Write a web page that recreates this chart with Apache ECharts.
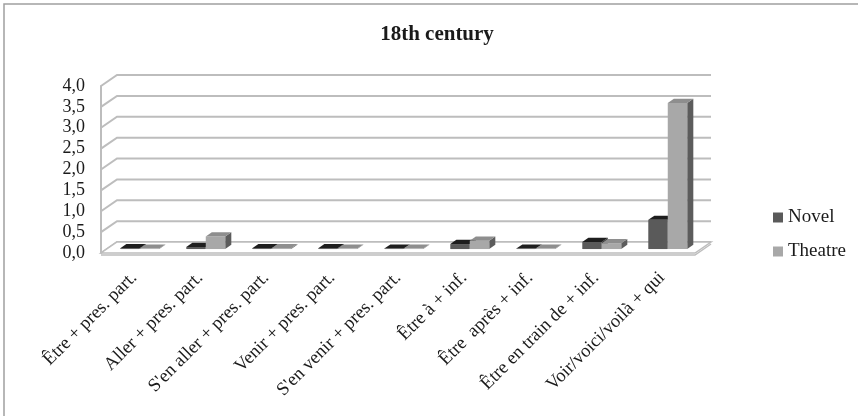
<!DOCTYPE html>
<html>
<head>
<meta charset="utf-8">
<script src="https://cdn.jsdelivr.net/npm/echarts@6/dist/echarts.min.js"></script>
<style>
  html, body { margin: 0; padding: 0; background: #fff; }
  #chart { width: 858px; height: 416px; }
</style>
</head>
<body>
<div id="chart"></div>
<script>
// Periphrastic constructions, 18th century corpus
const categories = [
  'Être + pres. part.',
  'Aller + pres. part.',
  "S'en aller + pres. part.",
  'Venir + pres. part.',
  "S'en venir + pres. part.",
  'Être à + inf.',
  'Être  après + inf.',
  'Être en train de + inf.',
  'Voir/voici/voilà + qui'
];
const novel   = [0.02, 0.05, 0.02, 0.02, 0.01, 0.12, 0.01, 0.17, 0.70];
const theatre = [0.01, 0.30, 0.02, 0.01, 0.01, 0.20, 0.01, 0.14, 3.50];
const yTicks  = [0, 0.5, 1, 1.5, 2, 2.5, 3, 3.5, 4];

// pseudo-3D depth vector (front plane -> back wall)
const DX = 16, DY = -11;
const BAR_FRONT = 0.36;   // depth fraction where bar front faces sit
const BAR_DEPTH = 0.38;   // depth fraction occupied by each bar
const BAR_W = 0.295;      // bar width as a fraction of the category band

const FONT = "'Liberation Serif', 'Times New Roman', serif";
const GRID_COLOR = '#bdbdbd';

const chart = echarts.init(document.getElementById('chart'), null, { renderer: 'canvas' });

function wallLines(params, api) {
  const v = api.value(1);
  const p = api.coord([0, v]);
  const band = api.size([1, 0])[0];
  const xl = p[0] - band / 2;
  const xr = xl + band * categories.length;
  return {
    type: 'polyline',
    shape: { points: [[xl, p[1]], [xl + DX, p[1] + DY], [xr + DX, p[1] + DY]] },
    style: { stroke: GRID_COLOR, lineWidth: 2, fill: null }
  };
}

function floorShape(params, api) {
  const p = api.coord([0, 0]);
  const band = api.size([1, 0])[0];
  const xl = p[0] - band / 2;
  const xr = xl + band * categories.length;
  const y = p[1];
  return {
    type: 'group',
    children: [
      {
        type: 'polygon',
        shape: { points: [[xl, y], [xr, y], [xr + DX, y + DY], [xl + DX, y + DY]] },
        style: { fill: '#ffffff', stroke: GRID_COLOR, lineWidth: 1.5 }
      },
      {
        type: 'polyline',
        shape: { points: [[xl, y + 2], [xr, y + 2], [xr + DX, y + DY + 2]] },
        style: { stroke: GRID_COLOR, lineWidth: 1.5, fill: null }
      }
    ]
  };
}

function barRenderer(sideIndex, colors) {
  return function (params, api) {
    const i = api.value(0);
    const v = api.value(1);
    const base = api.coord([i, 0]);
    const top = api.coord([i, v]);
    const band = api.size([1, 0])[0];
    const w = band * BAR_W;
    const fx = BAR_FRONT * DX, fy = BAR_FRONT * DY;
    const bx = BAR_DEPTH * DX, by = BAR_DEPTH * DY;
    const x0 = base[0] + (sideIndex === 0 ? -w : 0) + fx;
    const x1 = x0 + w;
    const yb = base[1] + fy;
    const yt = top[1] + fy;
    return {
      type: 'group',
      children: [
        {
          type: 'polygon',
          shape: { points: [[x1, yt], [x1 + bx, yt + by], [x1 + bx, yb + by], [x1, yb]] },
          style: { fill: colors.side }
        },
        {
          type: 'rect',
          shape: { x: x0, y: yt, width: w, height: Math.max(yb - yt, 0) },
          style: { fill: colors.front }
        },
        {
          type: 'polygon',
          shape: { points: [[x0, yt], [x1, yt], [x1 + bx, yt + by], [x0 + bx, yt + by]] },
          style: { fill: colors.top }
        }
      ]
    };
  };
}

const novelColors   = { front: '#5a5a5a', top: '#1e1e1e', side: '#3c3c3c' };
const theatreColors = { front: '#a8a8a8', top: '#8e8e8e', side: '#5c5c5c' };

chart.setOption({
  animation: false,
  backgroundColor: '#ffffff',
  title: {
    text: '18th century',
    left: 432,
    top: 19,
    textAlign: 'center',
    textStyle: { fontFamily: FONT, fontSize: 21, fontWeight: 'bold', color: '#1a1a1a' }
  },
  legend: {
    orient: 'vertical',
    left: 768,
    top: 203,
    itemWidth: 10,
    itemHeight: 10,
    itemGap: 15,
    icon: 'rect',
    data: ['Novel', 'Theatre'],
    textStyle: { fontFamily: FONT, fontSize: 19, color: '#1a1a1a' }
  },
  graphic: [{
    type: 'rect',
    shape: { x: 4, y: 4, width: 900, height: 450 },
    style: { fill: null, stroke: '#a0a0a0', lineWidth: 1.5 },
    silent: true
  }],
  grid: { left: 101, top: 86, width: 594, height: 167 },
  xAxis: {
    type: 'category',
    data: categories,
    axisLine: { show: false },
    axisTick: { show: false },
    axisLabel: {
      interval: 0,
      rotate: 45,
      margin: 22,
      fontFamily: FONT,
      fontSize: 18.5,
      color: '#1a1a1a'
    }
  },
  yAxis: {
    type: 'value',
    min: 0,
    max: 4,
    interval: 0.5,
    axisLine: { show: true, lineStyle: { color: GRID_COLOR, width: 2 } },
    axisTick: { show: false },
    splitLine: { show: false },
    axisLabel: {
      margin: 16,
      fontFamily: FONT,
      fontSize: 18,
      color: '#1a1a1a',
      formatter: v => v.toFixed(1).replace('.', ',')
    }
  },
  series: [
    {
      type: 'custom',
      silent: true,
      z: 1,
      renderItem: wallLines,
      data: yTicks.map(v => [0, v])
    },
    {
      type: 'custom',
      silent: true,
      z: 2,
      renderItem: floorShape,
      data: [[0, 0]]
    },
    {
      name: 'Novel',
      type: 'custom',
      z: 3,
      itemStyle: { color: novelColors.front },
      renderItem: barRenderer(0, novelColors),
      data: novel.map((v, i) => [i, v])
    },
    {
      name: 'Theatre',
      type: 'custom',
      z: 4,
      itemStyle: { color: theatreColors.front },
      renderItem: barRenderer(1, theatreColors),
      data: theatre.map((v, i) => [i, v])
    }
  ]
});
</script>
</body>
</html>
